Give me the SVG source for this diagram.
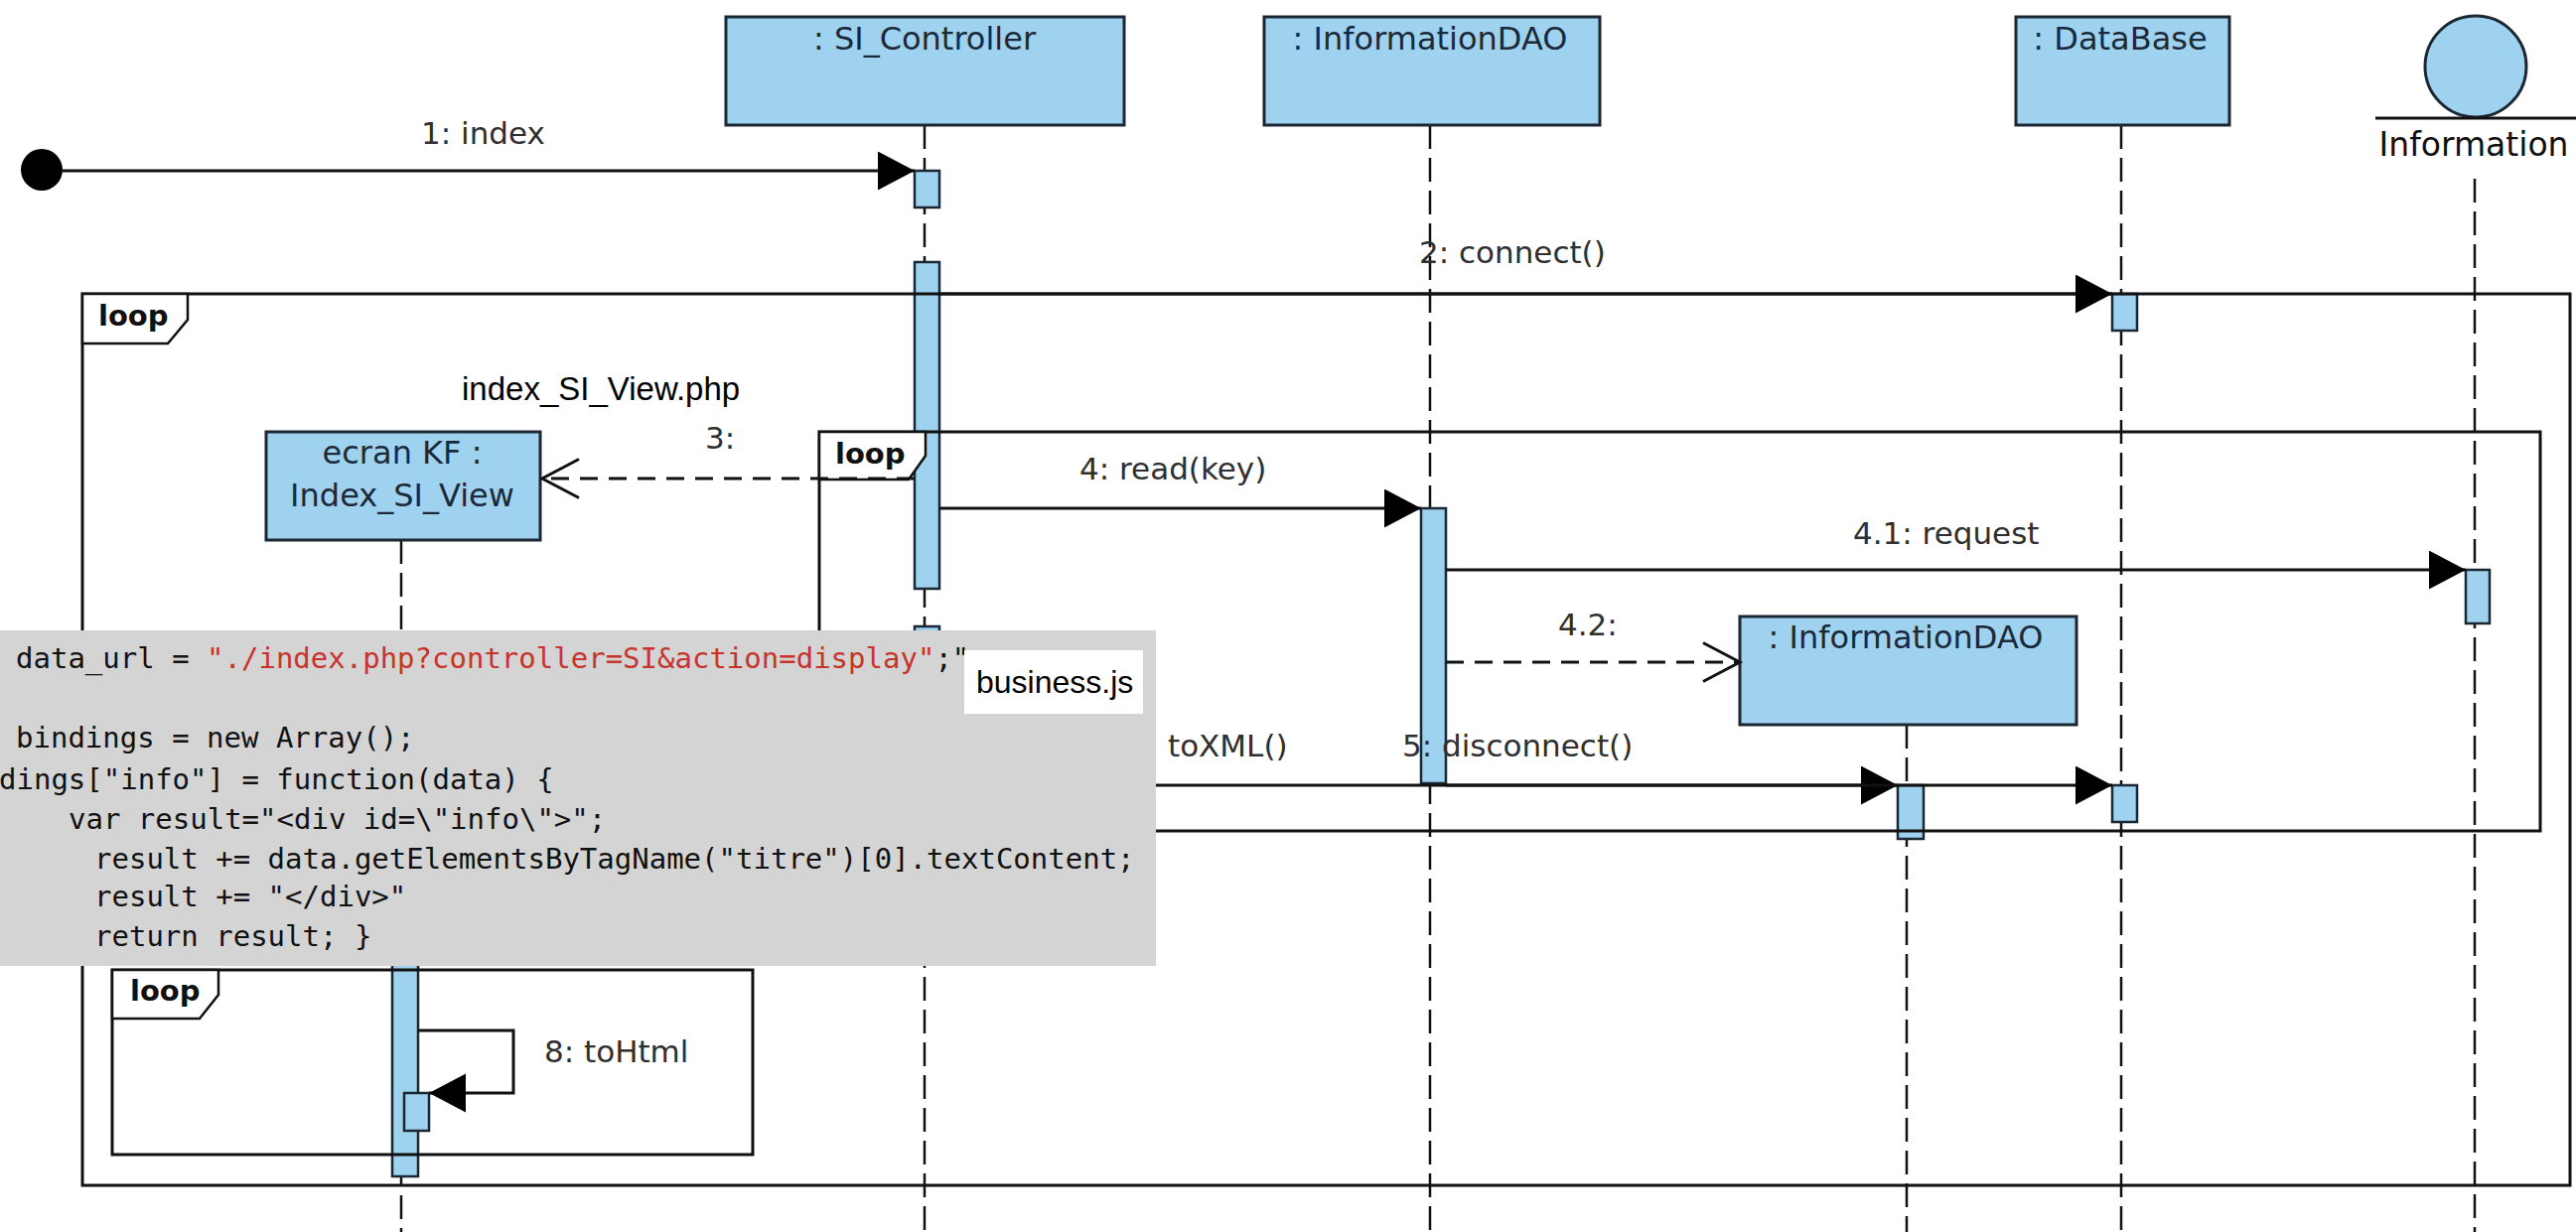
<svg xmlns="http://www.w3.org/2000/svg" width="2594" height="1241" viewBox="0 0 2594 1241">
<defs>
<style>
.box{fill:#9fd2ef;stroke:#1b2733;stroke-width:3}
.act{fill:#9fd2ef;stroke:#1b2733;stroke-width:2.5}
.life{stroke:#111;stroke-width:2.5;stroke-dasharray:24 9;fill:none}
.frame{fill:none;stroke:#111;stroke-width:3}
.tag{fill:#fff;stroke:#111;stroke-width:2.5}
.msg{fill:none;stroke:#111;stroke-width:3}
.dmsg{fill:none;stroke:#111;stroke-width:3;stroke-dasharray:18 11}
.lbl{font-family:"DejaVu Sans",sans-serif;font-size:31px;fill:#2f2f2f}
.nlbl{font-family:"DejaVu Sans",sans-serif;font-size:32px;fill:#1b2a3a;text-anchor:middle}
.loop{font-family:"DejaVu Sans",sans-serif;font-size:29px;font-weight:bold;fill:#111}
.code{font-family:"DejaVu Sans Mono",monospace;font-size:29px;fill:#111}
.str{fill:#c8332a}
.note{font-family:"Liberation Sans",Arial,sans-serif;font-size:32px;fill:#000}
</style>
<marker id="fillArrow" markerUnits="userSpaceOnUse" viewBox="0 0 38 40" markerWidth="38" markerHeight="40" refX="37" refY="19.5" orient="auto">
<path d="M0,0 L37,19.5 L0,39 z" fill="#000"/>
</marker>
<marker id="openArrow" markerUnits="userSpaceOnUse" viewBox="-3 -3 44 46" markerWidth="44" markerHeight="46" refX="37" refY="19.5" orient="auto">
<path d="M0,0 L37,19.5 L0,39" fill="none" stroke="#111" stroke-width="3"/>
</marker>
</defs>
<rect x="0" y="0" width="2594" height="1241" fill="#fff"/>

<g id="start">
<circle cx="42" cy="171" r="21" fill="#000"/>
</g>

<g id="si-controller">
<line class="life" x1="931" y1="126" x2="931" y2="1241"/>
<rect class="box" x="731" y="17" width="401" height="109"/>
<text class="nlbl" x="931" y="50">: SI_Controller</text>
<rect class="act" x="921" y="172" width="25" height="37"/>
<rect class="act" x="921" y="264" width="25" height="329"/>
<rect class="act" x="921" y="631" width="25" height="170"/>
</g>

<g id="information-dao">
<line class="life" x1="1440" y1="126" x2="1440" y2="1241"/>
<rect class="box" x="1273" y="17" width="338" height="109"/>
<text class="nlbl" x="1440" y="50">: InformationDAO</text>
<rect class="act" x="1431" y="512" width="25" height="277"/>
</g>

<g id="database">
<line class="life" x1="2136" y1="126" x2="2136" y2="1241"/>
<rect class="box" x="2030" y="17" width="215" height="109"/>
<text class="nlbl" x="2135" y="50">: DataBase</text>
<rect class="act" x="2127" y="296" width="25" height="37"/>
<rect class="act" x="2127" y="791" width="25" height="37"/>
</g>

<g id="information">
<line class="life" x1="2492" y1="180" x2="2492" y2="1241"/>
<circle class="box" cx="2493" cy="67" r="51"/>
<line x1="2392" y1="119" x2="2594" y2="119" stroke="#111" stroke-width="3"/>
<text class="nlbl" x="2491" y="157" style="fill:#111;font-size:33px">Information</text>
<rect class="act" x="2483" y="574" width="24" height="54"/>
</g>

<g id="index-si-view">
<line class="life" x1="404" y1="544" x2="404" y2="1241"/>
<rect class="box" x="268" y="435" width="276" height="109"/>
<text class="nlbl" x="405" y="467">ecran KF :</text>
<text class="nlbl" x="405" y="510">Index_SI_View</text>
<rect class="act" x="395" y="960" width="26" height="225"/>
<rect class="act" x="407" y="1101" width="25" height="38"/>
</g>

<g id="information-dao-2">
<line class="life" x1="1920" y1="730" x2="1920" y2="1241"/>
<rect class="box" x="1752" y="621" width="339" height="109"/>
<text class="nlbl" x="1919" y="653">: InformationDAO</text>
<rect class="act" x="1911" y="791" width="26" height="54"/>
</g>

<g id="frames">
<rect class="frame" x="83" y="296" width="2505" height="898"/>
<path class="tag" d="M83,296 H189 V322 L169,346 H83 Z"/>
<text class="loop" x="99" y="328">loop</text>
<rect class="frame" x="825" y="435" width="1733" height="402"/>
<path class="tag" d="M825,435 H932 V459 L915,483 H825 Z"/>
<text class="loop" x="841" y="467">loop</text>
<rect class="frame" x="113" y="977" width="645" height="186"/>
<path class="tag" d="M113,977 H220 V1002 L201,1026 H113 Z"/>
<text class="loop" x="131" y="1008">loop</text>
</g>

<g id="connectors">
<path class="msg" d="M63,172 H921" marker-end="url(#fillArrow)"/>
<text class="lbl" x="424" y="145">1: index</text>
<path class="msg" d="M946,296 H2127" marker-end="url(#fillArrow)"/>
<text class="lbl" x="1429" y="265">2: connect()</text>
<path class="dmsg" d="M921,482 H546" marker-end="url(#openArrow)"/>
<text class="lbl" x="710" y="452">3:</text>
<text class="note" x="465" y="403" style="font-size:33px">index_SI_View.php</text>
<path class="msg" d="M946,512 H1431" marker-end="url(#fillArrow)"/>
<text class="lbl" x="1087" y="483">4: read(key)</text>
<path class="msg" d="M1456,574 H2483" marker-end="url(#fillArrow)"/>
<text class="lbl" x="1866" y="548">4.1: request</text>
<path class="dmsg" d="M1456,667 H1752" marker-end="url(#openArrow)"/>
<text class="lbl" x="1569" y="640">4.2:</text>
<path class="msg" d="M946,791 H1911" marker-end="url(#fillArrow)"/>
<text class="lbl" x="1176" y="762">toXML()</text>
<path class="msg" d="M1456,791 H2127" marker-end="url(#fillArrow)"/>
<text class="lbl" x="1412" y="762">5: disconnect()</text>
<path class="msg" d="M421,1038 H517 V1101 H432" marker-end="url(#fillArrow)"/>
<text class="lbl" x="548" y="1070">8: toHtml</text>
</g>

<g id="business-js">
<rect x="0" y="635" width="1164" height="338" fill="#d4d4d4"/>
<text class="code" x="16" y="673">data_url = <tspan class="str">"./index.php?controller=SI&amp;action=display"</tspan>;"</text>
<text class="code" x="16" y="753">bindings = new Array();</text>
<text class="code" x="-1" y="795">dings["info"] = function(data) {</text>
<text class="code" x="69" y="835">var result="&lt;div id=\"info\"&gt;";</text>
<text class="code" x="95" y="875">result += data.getElementsByTagName("titre")[0].textContent;</text>
<text class="code" x="95" y="913">result += "&lt;/div&gt;"</text>
<text class="code" x="95" y="953">return result; }</text>
<rect x="971" y="655" width="180" height="64" fill="#fff"/>
<text class="note" x="983" y="698">business.js</text>
</g>
</svg>
